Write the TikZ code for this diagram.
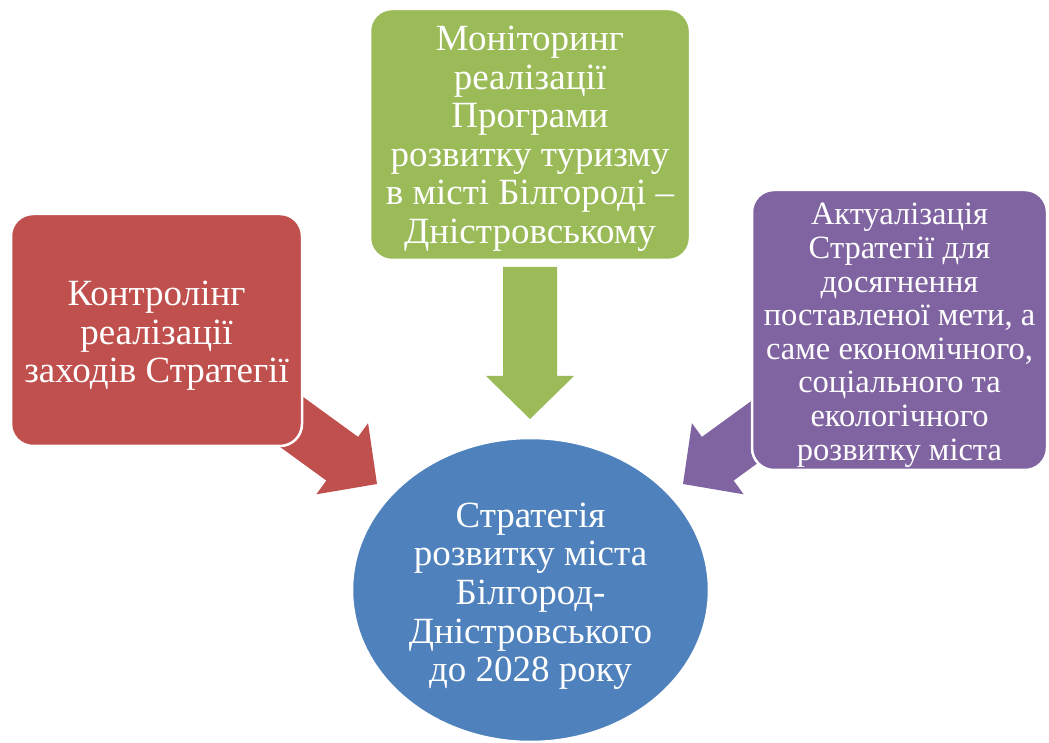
\documentclass[tikz,border=0pt]{standalone}
\usepackage{fontspec}
\setmainfont{Liberation Serif}
\usetikzlibrary{shapes.geometric}
\definecolor{cred}{HTML}{C0504D}
\definecolor{cgreen}{HTML}{9BBB59}
\definecolor{cblue}{HTML}{4F81BD}
\definecolor{cpurple}{HTML}{8064A2}
% block arrow: tip coordinate, direction angle, total length, colour
\newcommand\blockarrow[4]{%
  \fill[#4, shift={(#1)}, rotate=#2] (0,0) -- (-43,44) -- (-43,27) -- (-#3,27)
    -- (-#3,-27) -- (-43,-27) -- (-43,-44) -- cycle;}
% extra top room so that the text block sits a little lower in its shape
\newcommand\toppad[1]{\rule{0pt}{#1}}
\begin{document}
\begin{tikzpicture}[x=1pt,y=1pt,
  box/.style={rounded corners=22pt, draw=white, line width=2.5pt, align=center,
    text=white, inner sep=0pt},
  big/.style={font=\fontsize{37}{38.6}\selectfont},
  small/.style={font=\fontsize{32.5}{33.6}\selectfont}]
\useasboundingbox (0,0) rectangle (1049,742);
\coordinate (tg) at (530,323);
\coordinate (tr) at (377,258);
\coordinate (tp) at (683,258);
\blockarrow{tg}{-90}{152}{cgreen}
\blockarrow{tr}{-36}{125}{cred}
\blockarrow{tp}{216}{125}{cpurple}
\node[box, big, fill=cgreen, minimum width=320pt, minimum height=251pt] (mon) at (530,607.5)
  {\toppad{33pt}Моніторинг\\реалізації\\Програми\\розвитку туризму\\в місті Білгороді –\\Дністровському};
\node[box, big, fill=cred, minimum width=291pt, minimum height=232pt] (con) at (156.5,412)
  {\toppad{36pt}Контролінг\\реалізації\\заходів Стратегії};
\node[box, small, fill=cpurple, minimum width=295pt, minimum height=280pt] (act) at (899.5,412)
  {\toppad{32pt}Актуалізація\\Стратегії для\\досягнення\\поставленої мети, а\\саме економічного,\\соціального та\\екологічного\\розвитку міста};
\node[ellipse, draw=white, line width=2.5pt, fill=cblue, minimum width=357pt, minimum height=304pt,
  inner sep=0pt, text=white, align=center, big] (str) at (530.5,152)
  {\toppad{37pt}Стратегія\\розвитку міста\\Білгород-\\Дністровського\\до 2028 року};
\end{tikzpicture}
\end{document}
